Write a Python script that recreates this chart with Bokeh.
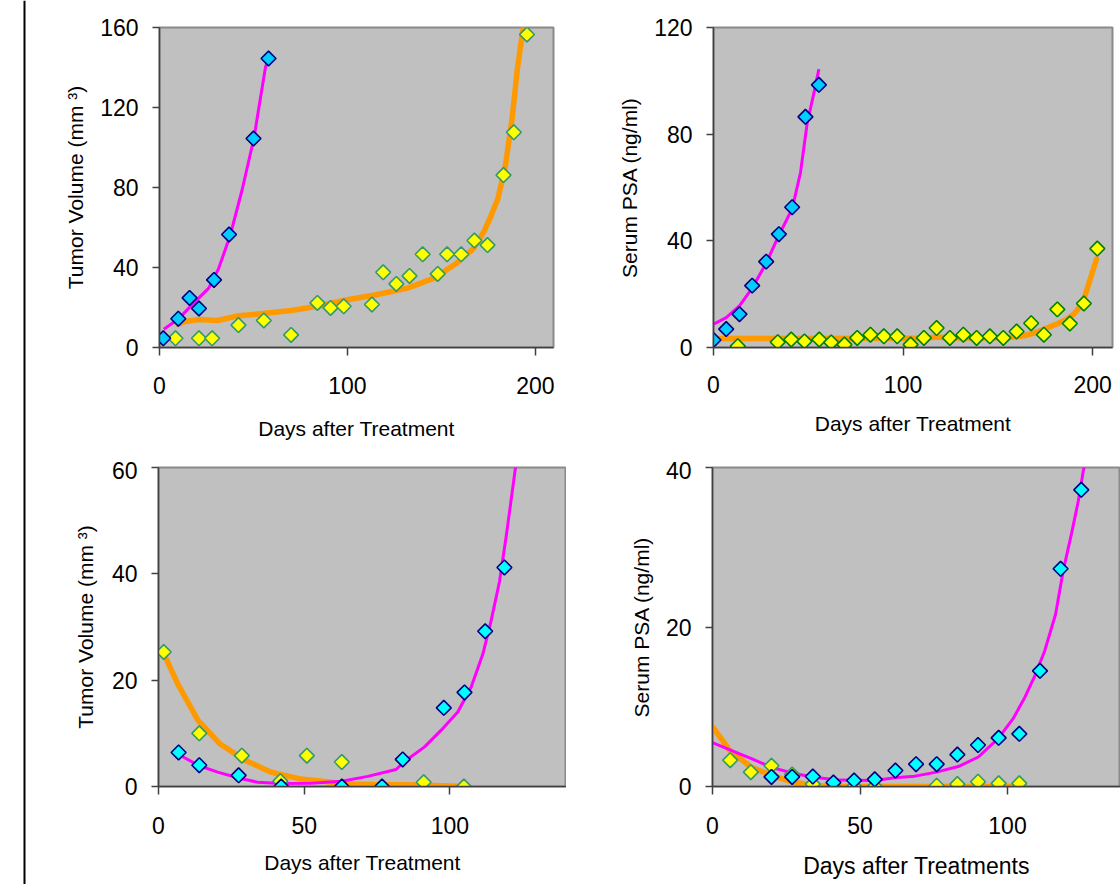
import numpy as np
from bokeh.plotting import figure
from bokeh.layouts import row, column
from bokeh.models import Range1d, Span, FixedTicker
from bokeh.embed import file_html
from bokeh.resources import INLINE

# ---------------- Panel A: tumor volume, long follow-up ----------------
a_blue_days = [2, 10, 16, 21, 29, 37, 50, 58]
a_blue_vol = [4.6, 14.4, 24.8, 19.5, 33.8, 56.5, 104.5, 144.5]
a_yel_days = [8.5, 21, 28, 42, 55.5, 70, 84, 91, 98, 113, 119, 126, 133, 140,
              148, 153, 160.5, 167.5, 174.5, 183, 188.5, 195.5]
a_yel_vol = [4.6, 4.6, 4.6, 11.2, 13.5, 6.3, 22.3, 19.8, 20.6, 21.5, 37.6, 31.8,
             35.8, 46.6, 36.8, 46.6, 46.6, 53.5, 51.2, 86.2, 107.6, 156.5]
a_mag_days = [2.3, 10, 18.3, 26.2, 31.5, 37.6, 44, 50.2, 56.4, 58]
a_mag_vol = [9.1, 14.2, 22.3, 29.7, 39.6, 56, 79, 104.5, 140.3, 144]
a_org_days = [10, 13, 21, 31, 41, 55, 70, 84, 100, 114, 132, 146, 158, 167,
              172.5, 176, 180, 184, 187.5, 190.3, 193, 194.5]
a_org_vol = [11.6, 12.9, 14.0, 13.5, 15.7, 17, 18.5, 20.6, 23.9, 26.1, 29.7, 34.7,
             42.1, 49.5, 57.8, 65, 74.3, 90.8, 113.9, 138.7, 156.8, 165]

# ---------------- Panel B: serum PSA, long follow-up ----------------
b_blue_days = [0, 6.7, 13.7, 20.4, 27.8, 34.5, 41.5, 48.5, 55.6]
b_blue_psa = [2.8, 6.9, 12.5, 23.2, 32.2, 42.5, 52.6, 86.5, 98.5]
b_yel_days = [12.8, 33.9, 41.0, 48.0, 55.8, 62.1, 69.1, 75.8, 82.8, 89.9, 96.9,
              104.0, 111.0, 117.7, 124.7, 131.8, 138.8, 145.8, 152.9, 159.9,
              167.6, 174.3, 181.4, 188.0, 195.4, 202.5]
b_yel_psa = [0.5, 2.0, 3.0, 2.3, 3.0, 1.9, 1.1, 3.6, 4.8, 4.2, 4.2, 1.1, 3.6,
             7.3, 3.6, 4.8, 3.6, 4.2, 3.6, 6.0, 9.1, 4.8, 14.3, 9.0, 16.5, 37.1]
b_mag_days = [0.2, 6.7, 13.7, 20.4, 27.8, 34.5, 41.5, 45.9, 49.4, 52.9, 55.6]
b_mag_psa = [8.8, 11.2, 15.6, 22.3, 31.6, 42.1, 52, 65.6, 84, 95.2, 104.4]
b_org_days = [2.8, 20, 40, 60, 80, 100, 112, 118, 124, 140, 155, 163.8, 170,
              176, 181, 186.6, 190, 193.7, 196, 198.1, 200, 202.1]
b_org_psa = [3.4, 3.4, 3.4, 3.4, 3.5, 3.5, 3.6, 3.9, 3.6, 3.6, 3.7, 4.4, 5.6,
             7.3, 8.8, 10.6, 12.5, 15.6, 19.5, 24.2, 28.5, 33.2]

# ---------------- Panel C: tumor volume, short follow-up ----------------
c_blue_days = [6.9, 14.0, 27.5, 42.1, 62.9, 76.7, 83.8, 97.9, 105.0, 112.1, 118.7]
c_blue_vol = [6.4, 4.0, 2.1, 0.0, 0.0, 0.0, 5.1, 14.8, 17.7, 29.2, 41.2]
c_yel_days = [1.8, 14.0, 28.6, 41.8, 50.9, 62.9, 91.0, 104.8]
c_yel_vol = [25.3, 10.0, 5.8, 1.0, 5.8, 4.6, 0.8, 0.0]
c_mag_days = [8.3, 14, 20.3, 27.5, 34.0, 42.1, 52.4, 62.9, 71.8, 81.5, 84.4, 91.2,
              97.0, 102.7, 107.3, 111.3, 114.1, 117, 119.4, 122.5, 123]
c_mag_vol = [5.6, 3.9, 2.7, 1.6, 0.8, 0.56, 0.6, 1.0, 1.9, 3.2, 4.7, 7.4, 10.6,
             14.0, 18.7, 24.9, 31.1, 38.5, 47.4, 60, 62]
c_org_days = [1.8, 6.6, 13.5, 20.9, 29.5, 38.6, 48.9, 59.2, 66.1, 89, 104.8]
c_org_vol = [25, 19.3, 12.5, 8.1, 5.0, 2.7, 1.4, 0.8, 0.4, 0.3, 0]

# ---------------- Panel D: serum PSA, short follow-up ----------------
d_blue_days = [20, 27, 34, 41, 48, 55, 62, 69, 76, 83, 90, 97, 104, 111, 118, 125]
d_blue_psa = [1.2, 1.2, 1.25, 0.5, 0.75, 0.9, 2.0, 2.8, 2.8, 4.0, 5.2, 6.1, 6.6,
              14.5, 27.3, 37.2]
d_yel_days = [6, 13, 20, 27, 34, 41, 48, 55, 76, 83, 90, 97, 104]
d_yel_psa = [3.3, 1.8, 2.6, 1.5, 0.3, 0, 0, 0, 0.1, 0.3, 0.6, 0.4, 0.4]
d_mag_days = [0, 5.9, 13.2, 20, 27.9, 35.8, 43.4, 55, 61.8, 68.6, 75.9, 83.3,
              90.1, 96.8, 101.9, 105.9, 109.3, 112.6, 116.3, 118.9, 121.7, 124,
              125.7, 126.5]
d_mag_psa = [5.5, 4.6, 3.5, 2.4, 1.6, 1.1, 0.8, 0.75, 1.1, 1.3, 1.8, 2.5, 3.7,
             6.0, 8.5, 11.2, 13.9, 17.0, 21.6, 27.1, 31.7, 35.8, 39.6, 41]
d_org_days = [0, 5.9, 13.2, 20, 27.9, 35.8, 45, 101.4]
d_org_psa = [7.5, 4.5, 2.4, 1.4, 0.5, 0.1, 0, 0]

FONT = "Liberation Sans"
MAGENTA = "#FF00FF"
ORANGE = "#FF9900"


def make_panel(width, height, borders, xr, yr, xticks, yticks, xlabel, ylabel,
               xtitle_size="21px", xlabel_standoff=21, xtitle_standoff=15,
               ytitle_standoff=10):
    left, right, top, bottom = borders
    p = figure(width=width, height=height, x_range=Range1d(*xr), y_range=Range1d(*yr),
               output_backend="svg", toolbar_location=None,
               min_border_left=left, min_border_right=right,
               min_border_top=top, min_border_bottom=bottom)
    p.background_fill_color = "#C0C0C0"
    p.border_fill_color = "white"
    p.outline_line_color = "#8a8a8a"
    p.outline_line_width = 2
    p.grid.visible = False
    for ax, ticks in ((p.xaxis[0], xticks), (p.yaxis[0], yticks)):
        ax.ticker = FixedTicker(ticks=ticks)
        ax.minor_tick_line_color = None
        ax.major_tick_in = 0
        ax.major_label_text_font = FONT
        ax.major_label_text_font_size = "23px"
        ax.major_label_text_color = "black"
        ax.axis_label_text_font = FONT
        ax.axis_label_text_font_style = "normal"
        ax.axis_label_text_color = "black"
        ax.axis_line_color = "#404040"
        ax.axis_line_width = 1.5
        ax.major_tick_line_color = "#404040"
        ax.major_tick_line_width = 1.5
    p.xaxis.axis_label = xlabel
    p.xaxis.axis_label_text_font_size = xtitle_size
    p.xaxis.major_tick_out = 8
    p.xaxis.major_label_standoff = xlabel_standoff
    p.xaxis.axis_label_standoff = xtitle_standoff
    p.yaxis.axis_label = ylabel
    p.yaxis.axis_label_text_font_size = "21px"
    p.yaxis.major_tick_out = 7
    p.yaxis.major_label_standoff = 14
    p.yaxis.axis_label_standoff = ytitle_standoff
    return p


def add_series(p, org, mag, yel, blue, yel_line, blue_fill):
    p.line(org[0], org[1], line_color=ORANGE, line_width=5.5,
           line_join="round", line_cap="round")
    p.line(mag[0], mag[1], line_color=MAGENTA, line_width=3, line_join="round")
    p.scatter(yel[0], yel[1], marker="square", angle=np.pi / 4, size=10.5,
              fill_color="#FFFF00", line_color=yel_line, line_width=1.6)
    p.scatter(blue[0], blue[1], marker="square", angle=np.pi / 4, size=10.5,
              fill_color=blue_fill, line_color="#000080", line_width=1.6)


# left border line
p0 = figure(width=26, height=884, x_range=Range1d(0, 26), y_range=Range1d(0, 1),
            x_axis_location=None, y_axis_location=None, min_border=0,
            output_backend="svg", toolbar_location=None)
p0.outline_line_color = None
p0.grid.visible = False
p0.add_layout(Span(location=24, dimension="height", line_color="black", line_width=2))

p1 = make_panel(534, 461, (133, 7, 27, 111), (0, 209.6), (0, 160),
                [0, 100, 200], [0, 40, 80, 120, 160],
                "Days after Treatment", "Tumor Volume (mm ³)",
                xlabel_standoff=21, xtitle_standoff=20, ytitle_standoff=10)
add_series(p1, (a_org_days, a_org_vol), (a_mag_days, a_mag_vol),
           (a_yel_days, a_yel_vol), (a_blue_days, a_blue_vol), "#339966", "#00CCFF")

p2 = make_panel(560, 461, (153, 8, 22, 114), (0, 210.5), (0, 120),
                [0, 100, 200], [0, 40, 80, 120],
                "Days after Treatment", "Serum PSA (ng/ml)",
                xlabel_standoff=20, xtitle_standoff=16, ytitle_standoff=10)
add_series(p2, (b_org_days, b_org_psa), (b_mag_days, b_mag_psa),
           (b_yel_days, b_yel_psa), (b_blue_days, b_blue_psa), "#008000", "#00CCFF")

p3 = make_panel(540, 423, (132, 0, 6, 97), (0, 140), (0, 60),
                [0, 50, 100], [0, 20, 40, 60],
                "Days after Treatment", "Tumor Volume (mm ³)",
                xlabel_standoff=22, xtitle_standoff=14, ytitle_standoff=12)
add_series(p3, (c_org_days, c_org_vol), (c_mag_days, c_mag_vol),
           (c_yel_days, c_yel_vol), (c_blue_days, c_blue_vol), "#339966", "#00FFFF")

p4 = make_panel(554, 423, (146, 0, 4, 98), (0, 138.3), (0, 40),
                [0, 50, 100], [0, 20, 40],
                "Days after Treatments", "Serum PSA (ng/ml)",
                xtitle_size="23px", xlabel_standoff=22, xtitle_standoff=16,
                ytitle_standoff=10)
add_series(p4, (d_org_days, d_org_psa), (d_mag_days, d_mag_psa),
           (d_yel_days, d_yel_psa), (d_blue_days, d_blue_psa), "#339966", "#00FFFF")

layout = row(p0, column(row(p1, p2), row(p3, p4)),
             styles={"position": "absolute", "left": "0px", "top": "0px"})

with open("out.html", "w") as f:
    f.write(file_html(layout, INLINE))
